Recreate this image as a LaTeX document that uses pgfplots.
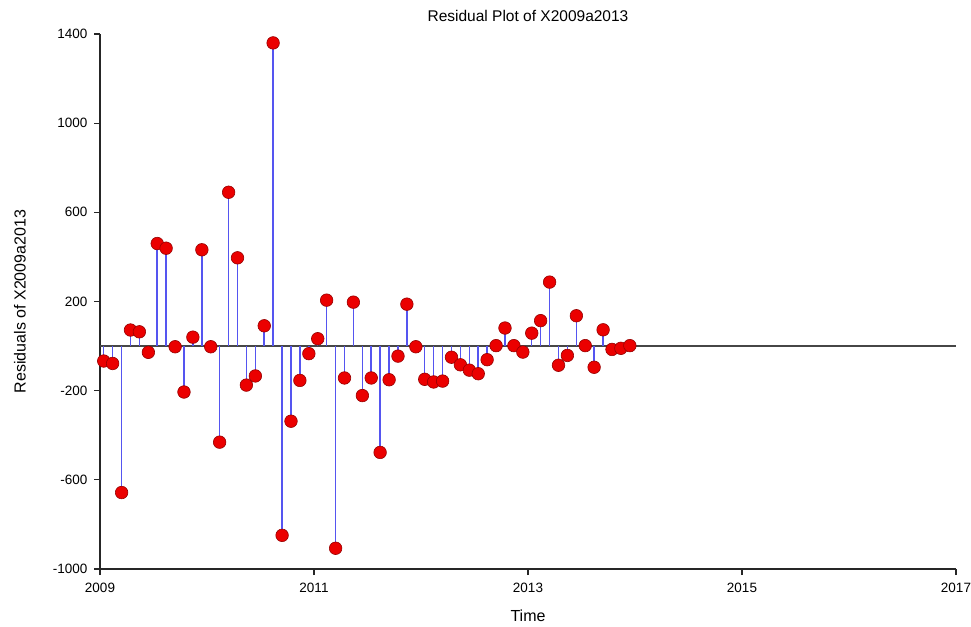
\documentclass[border=0pt]{standalone}
\usepackage{pgfplots}
\pgfplotsset{compat=1.18}
\usepackage{fontspec}
\setmainfont{Liberation Sans}
\definecolor{stem}{RGB}{85,85,240}
\definecolor{dotfill}{RGB}{235,0,0}
\definecolor{dotline}{RGB}{150,0,0}
\definecolor{zeroline}{RGB}{70,70,70}
\begin{document}
\begin{tikzpicture}
\path[use as bounding box] (-100pt,-57pt) rectangle (871pt,569pt);
\begin{axis}[
  at={(0,0)}, anchor=south west,
  scale only axis, width=856pt, height=535pt,
  xmin=2009, xmax=2017, ymin=-1000, ymax=1400,
  xtick={2009,2011,2013,2015,2017},
  ytick={-1000,-600,-200,200,600,1000,1400},
  axis lines*=left,
  axis line style={line width=1.1pt, black!85},
  tick style={line width=1.1pt, black!85},
  tick align=outside, major tick length=6pt,
  /pgf/number format/assume math mode=true,
  /pgf/number format/.cd, 1000 sep={}, /pgfplots/.cd,
  x tick label style={font=\fontsize{13.5}{15}\selectfont, yshift=-5pt},
  y tick label style={font=\fontsize{13.5}{15}\selectfont, xshift=-3pt},
  title={Residual Plot of X2009a2013},
  title style={font=\fontsize{15.5}{18}\selectfont, at={(0.5,1)}, anchor=center, yshift=12pt},
  xlabel={Time},
  xlabel style={font=\fontsize{16}{18}\selectfont, at={(0.5,0)}, anchor=center, yshift=-47pt},
  ylabel={Residuals of X2009a2013},
  ylabel style={font=\fontsize{16}{18}\selectfont, at={(0,0.5)}, anchor=center, yshift=80pt},
  clip=false,
]
\addplot[zeroline, line width=1.2pt] coordinates {(2009,0) (2017,0)};
\addplot[ycomb, stem, line width=1.5pt, mark=none] table {
x y
2009.035 -67
2009.118 -78
2009.202 -657
2009.285 72
2009.368 64
2009.452 -28
2009.535 460
2009.618 439
2009.702 -3
2009.785 -206
2009.868 40
2009.952 432
2010.035 -3
2010.118 -431
2010.202 690
2010.285 396
2010.368 -175
2010.452 -134
2010.535 91
2010.618 1360
2010.702 -849
2010.785 -337
2010.868 -154
2010.952 -34
2011.035 33
2011.118 206
2011.202 -907
2011.285 -143
2011.368 197
2011.452 -222
2011.535 -143
2011.618 -477
2011.702 -151
2011.785 -45
2011.868 188
2011.952 -3
2012.035 -149
2012.118 -161
2012.202 -157
2012.285 -50
2012.368 -84
2012.452 -108
2012.535 -124
2012.618 -61
2012.702 2
2012.785 81
2012.868 2
2012.952 -27
2013.035 58
2013.118 114
2013.202 287
2013.285 -86
2013.368 -42
2013.452 136
2013.535 2
2013.618 -95
2013.702 73
2013.785 -15
2013.868 -10
2013.952 2
};
\addplot[only marks, mark=*, mark size=6.3pt, mark options={fill=dotfill, draw=dotline, line width=0.6pt}] table {
x y
2009.035 -67
2009.118 -78
2009.202 -657
2009.285 72
2009.368 64
2009.452 -28
2009.535 460
2009.618 439
2009.702 -3
2009.785 -206
2009.868 40
2009.952 432
2010.035 -3
2010.118 -431
2010.202 690
2010.285 396
2010.368 -175
2010.452 -134
2010.535 91
2010.618 1360
2010.702 -849
2010.785 -337
2010.868 -154
2010.952 -34
2011.035 33
2011.118 206
2011.202 -907
2011.285 -143
2011.368 197
2011.452 -222
2011.535 -143
2011.618 -477
2011.702 -151
2011.785 -45
2011.868 188
2011.952 -3
2012.035 -149
2012.118 -161
2012.202 -157
2012.285 -50
2012.368 -84
2012.452 -108
2012.535 -124
2012.618 -61
2012.702 2
2012.785 81
2012.868 2
2012.952 -27
2013.035 58
2013.118 114
2013.202 287
2013.285 -86
2013.368 -42
2013.452 136
2013.535 2
2013.618 -95
2013.702 73
2013.785 -15
2013.868 -10
2013.952 2
};
\end{axis}
\end{tikzpicture}
\end{document}
